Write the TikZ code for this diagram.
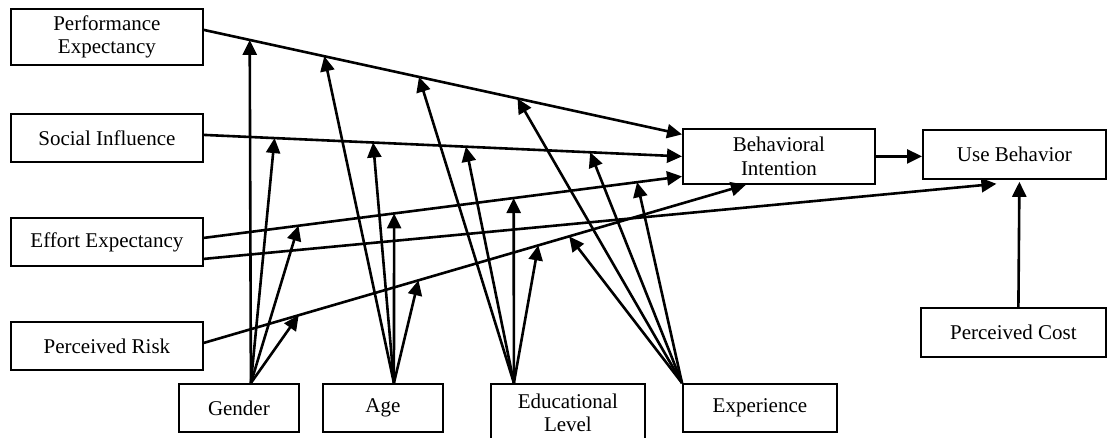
\documentclass[tikz,border=0pt]{standalone}
\usepackage{fontspec}
\setmainfont{Liberation Serif}
\usetikzlibrary{arrows.meta,calc}
\begin{document}
\begin{tikzpicture}[x=1pt,y=-1pt,
  box/.style={draw,line width=1.8pt,inner sep=0pt,anchor=north west,align=center,
    font=\fontsize{21}{23.5}\selectfont},
  arr/.style={line width=2.6pt,-{Triangle[length=15pt,width=14pt]}}]
\useasboundingbox (0,0) rectangle (1107,437);
\node[box,minimum width=192pt,minimum height=56pt] (pe) at (10,8) {Performance\\Expectancy};
\node[box,minimum width=192pt,minimum height=48pt] (si) at (10,113) {Social Influence};
\node[box,minimum width=192pt,minimum height=48pt] (ee) at (10,217) {Effort Expectancy};
\node[box,minimum width=192pt,minimum height=48pt] (pr) at (10,321) {Perceived Risk};
\node[box,minimum width=120pt,minimum height=48pt] (gender) at (178,383) {Gender};
\node[box,minimum width=120pt,minimum height=48pt] (age) at (322,383) {Age};
\node[box,minimum width=154pt,minimum height=58pt] (edu) at (490,383) {Educational\\Level};
\node[box,minimum width=154pt,minimum height=48pt] (exp) at (682,383) {Experience};
\node[box,minimum width=192pt,minimum height=55pt] (bi) at (682,128) {Behavioral\\Intention};
\node[box,minimum width=183pt,minimum height=49pt] (ub) at (922,129) {Use Behavior};
\node[box,minimum width=185pt,minimum height=49pt] (pc) at (920,307) {Perceived Cost};

% main paths
\draw[arr] ([yshift=7pt]pe.east) -- ([yshift=22pt]bi.west)
  coordinate[pos=0.096] (pe1) coordinate[pos=0.252] (pe2)
  coordinate[pos=0.45] (pe3) coordinate[pos=0.656] (pe4);
\draw[arr] ([yshift=3pt]si.east) -- (bi.west)
  coordinate[pos=0.148] (si1) coordinate[pos=0.354] (si2)
  coordinate[pos=0.548] (si3) coordinate[pos=0.808] (si4);
\draw[arr] ([yshift=4pt]ee.east) -- ([yshift=-20pt]bi.west)
  coordinate[pos=0.198] (ee1) coordinate[pos=0.398] (ee2)
  coordinate[pos=0.648] (ee3) coordinate[pos=0.906] (ee4);
\draw[arr] ([yshift=3pt]pr.east) -- ([xshift=-33pt]bi.south)
  coordinate[pos=0.175] (pr1) coordinate[pos=0.396] (pr2)
  coordinate[pos=0.617] (pr3) coordinate[pos=0.674] (pr4);
\draw[arr] ([yshift=-17pt]ee.east) -- ([xshift=-18pt,yshift=-4pt]ub.south);
\draw[arr] (bi.east) -- (bi.east -| ub.west);
\draw[arr] ([xshift=5pt]pc.north) -- ([xshift=5pt,yshift=-2pt]ub.south);

% moderators
\coordinate (g) at ([xshift=12pt]gender.north);
\coordinate (a) at ([xshift=11pt]age.north);
\coordinate (e) at ([xshift=-54pt]edu.north);
\coordinate (x) at (exp.north west);
\foreach \s in {g,a,e,x}{}
\draw[arr] (g) -- (pe1);
\draw[arr] (g) -- (si1);
\draw[arr] (g) -- (ee1);
\draw[arr] (g) -- (pr1);
\draw[arr] (a) -- (pe2);
\draw[arr] (a) -- (si2);
\draw[arr] (a) -- (ee2);
\draw[arr] (a) -- (pr2);
\draw[arr] (e) -- (pe3);
\draw[arr] (e) -- (si3);
\draw[arr] (e) -- (ee3);
\draw[arr] (e) -- (pr3);
\draw[arr] (x) -- (pe4);
\draw[arr] (x) -- (si4);
\draw[arr] (x) -- (ee4);
\draw[arr] (x) -- (pr4);
\end{tikzpicture}
\end{document}
